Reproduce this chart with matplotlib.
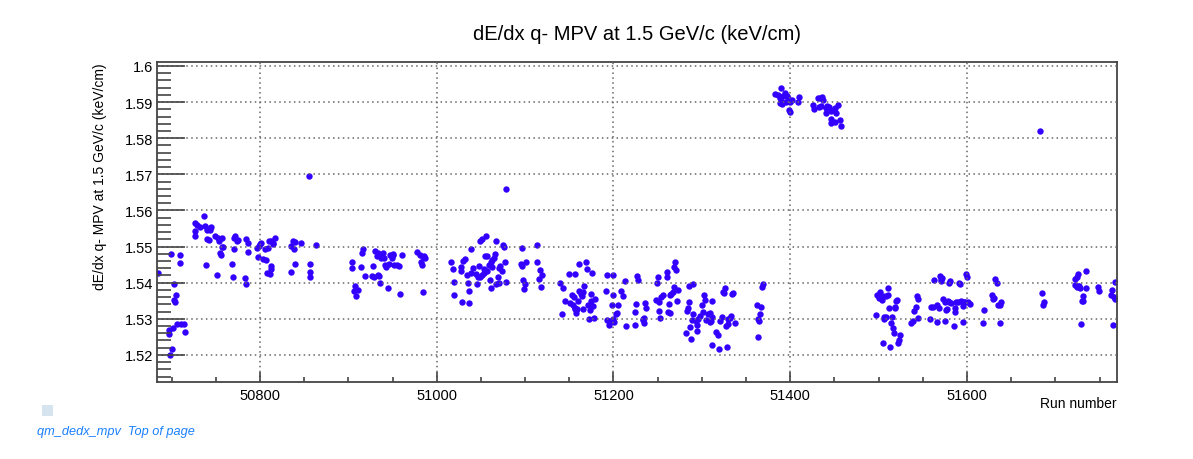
import matplotlib
matplotlib.use("Agg")
import matplotlib.pyplot as plt
from matplotlib.ticker import MultipleLocator, FuncFormatter
import numpy as np

plt.rcParams['font.family'] = ['Liberation Sans', 'DejaVu Sans']

# ---- data (run number, dE/dx q- MPV) ----
runs_a = [50685, 50699, 50698, 50701, 50697, 50697, 50702, 50706, 50711, 50714, 50715, 50703, 50705,
          50703, 50704, 50709, 50710, 50726, 50727, 50727, 50729, 50732, 50737, 50738, 50740, 50743,
          50745, 50744, 50740, 50742, 50739, 50749, 50752, 50754, 50757, 50757, 50758, 50755, 50756,
          50751, 50768, 50769, 50771, 50772, 50774, 50775, 50771, 50784, 50786, 50787, 50783, 50784,
          50797, 50799, 50800, 50801, 50798, 50804, 50807, 50806, 50809, 50810, 50812, 50815, 50817,
          50815, 50812, 50813, 50811, 50808, 50835, 50837, 50840, 50839, 50840, 50835, 50846, 50857,
          50857, 50857, 50855, 50863]
mpv_a = [1.5427, 1.5480, 1.5200, 1.5215, 1.5269, 1.5257, 1.5274, 1.5285, 1.5286, 1.5286, 1.5264, 1.5397, 1.5367,
         1.5352, 1.5347, 1.5476, 1.5455, 1.5542, 1.5529, 1.5566, 1.5561, 1.5555, 1.5585, 1.5558, 1.5547, 1.5552,
         1.5553, 1.5546, 1.5521, 1.5518, 1.5448, 1.5529, 1.5523, 1.5516, 1.5523, 1.5500, 1.5498, 1.5482, 1.5477,
         1.5421, 1.5451, 1.5417, 1.5523, 1.5529, 1.5515, 1.5518, 1.5494, 1.5521, 1.5511, 1.5485, 1.5412, 1.5397,
         1.5495, 1.5501, 1.5507, 1.5511, 1.5471, 1.5466, 1.5462, 1.5493, 1.5497, 1.5515, 1.5516, 1.5506, 1.5525,
         1.5509, 1.5447, 1.5437, 1.5423, 1.5427, 1.5502, 1.5516, 1.5512, 1.5493, 1.5451, 1.5429, 1.5511, 1.5452,
         1.5430, 1.5417, 1.5696, 1.5505]

runs_b = [50904, 50904, 50908, 50906, 50911, 50909, 50914, 50915, 50917, 50919, 50927, 50929, 50934,
          50935, 50928, 50936, 50945, 50959, 50930, 50932, 50933, 50937, 50939, 50940, 50936, 50942,
          50943, 50946, 50947, 50950, 50949, 50951, 50952, 50955, 50957, 50961, 50978, 50981, 50984,
          50986, 50987, 50982, 50983, 50985, 51016, 51018, 51020, 51019, 51030, 51032, 51028, 51027,
          51029, 51034, 51035, 51036, 51037]
mpv_b = [1.5456, 1.5441, 1.5391, 1.5377, 1.5381, 1.5363, 1.5444, 1.5483, 1.5494, 1.5419, 1.5418, 1.5417, 1.5422,
         1.5418, 1.5446, 1.5398, 1.5386, 1.5370, 1.5487, 1.5474, 1.5481, 1.5467, 1.5481, 1.5469, 1.5475, 1.5449,
         1.5444, 1.5453, 1.5478, 1.5479, 1.5469, 1.5476, 1.5449, 1.5449, 1.5446, 1.5477, 1.5485, 1.5477, 1.5470,
         1.5475, 1.5468, 1.5457, 1.5450, 1.5374, 1.5457, 1.5439, 1.5401, 1.5365, 1.5461, 1.5465, 1.5444, 1.5431,
         1.5346, 1.5422, 1.5398, 1.5345, 1.5376]

runs_c = [51039, 51041, 51039, 51045, 51047, 51048, 51046, 51049, 51051, 51056, 51049, 51051, 51053,
          51054, 51057, 51055, 51057, 51059, 51061, 51063, 51065, 51063, 51066, 51060, 51061, 51067,
          51069, 51071, 51072, 51074, 51077, 51075, 51076, 51067, 51070, 51078, 51078, 51097, 51095,
          51096, 51101, 51098, 51100, 51099, 51114, 51114, 51117, 51119, 51116, 51118, 51140, 51143,
          51145, 51142, 51150, 51156, 51161, 51169, 51170, 51176, 51153, 51155, 51151, 51154, 51156,
          51157, 51159, 51161, 51163, 51166, 51164, 51167, 51160, 51158, 51165, 51171, 51173, 51177,
          51175, 51174, 51179, 51172, 51178, 51193, 51200, 51192, 51199, 51198, 51205, 51193, 51195,
          51195, 51201, 51203, 51204, 51200, 51213, 51209, 51211, 51214]
mpv_c = [1.5492, 1.5440, 1.5427, 1.5423, 1.5417, 1.5446, 1.5395, 1.5516, 1.5522, 1.5530, 1.5417, 1.5421, 1.5427,
         1.5438, 1.5433, 1.5475, 1.5473, 1.5450, 1.5457, 1.5463, 1.5468, 1.5444, 1.5480, 1.5407, 1.5386, 1.5515,
         1.5415, 1.5440, 1.5446, 1.5431, 1.5457, 1.5503, 1.5500, 1.5395, 1.5399, 1.5402, 1.5660, 1.5495, 1.5453,
         1.5446, 1.5456, 1.5408, 1.5397, 1.5383, 1.5504, 1.5456, 1.5435, 1.5420, 1.5410, 1.5388, 1.5398, 1.5386,
         1.5349, 1.5313, 1.5423, 1.5425, 1.5453, 1.5458, 1.5438, 1.5426, 1.5367, 1.5360, 1.5344, 1.5338, 1.5330,
         1.5326, 1.5326, 1.5378, 1.5368, 1.5373, 1.5362, 1.5390, 1.5349, 1.5317, 1.5328, 1.5339, 1.5325, 1.5335,
         1.5349, 1.5368, 1.5356, 1.5299, 1.5301, 1.5421, 1.5420, 1.5378, 1.5367, 1.5337, 1.5337, 1.5298, 1.5293,
         1.5283, 1.5291, 1.5314, 1.5316, 1.5300, 1.5404, 1.5376, 1.5364, 1.5281]

runs_d = [51226, 51224, 51236, 51237, 51224, 51233, 51234, 51235, 51233, 51227, 51228, 51249, 51250,
          51248, 51252, 51254, 51256, 51251, 51253, 51260, 51261, 51265, 51267, 51264, 51268, 51270,
          51269, 51271, 51273, 51272, 51262, 51264, 51263, 51286, 51290, 51285, 51284, 51283, 51290,
          51289, 51293, 51294, 51296, 51295, 51282, 51287, 51288, 51302, 51303, 51300, 51301, 51298,
          51305, 51307, 51309, 51310, 51311, 51309, 51312, 51316, 51318, 51311, 51319, 51328, 51321,
          51323, 51324, 51325, 51326, 51327, 51329, 51330, 51332, 51333, 51335, 51334, 51337, 51362,
          51367, 51366, 51363, 51365, 51364, 51369, 51368]
mpv_d = [1.5341, 1.5320, 1.5344, 1.5331, 1.5282, 1.5299, 1.5302, 1.5289, 1.5296, 1.5418, 1.5408, 1.5398, 1.5415,
         1.5351, 1.5347, 1.5361, 1.5367, 1.5322, 1.5301, 1.5429, 1.5416, 1.5368, 1.5374, 1.5365, 1.5389, 1.5457,
         1.5443, 1.5435, 1.5381, 1.5349, 1.5320, 1.5315, 1.5342, 1.5391, 1.5396, 1.5346, 1.5330, 1.5321, 1.5314,
         1.5297, 1.5293, 1.5284, 1.5300, 1.5265, 1.5262, 1.5277, 1.5243, 1.5367, 1.5353, 1.5338, 1.5320, 1.5309,
         1.5296, 1.5312, 1.5316, 1.5295, 1.5305, 1.5290, 1.5349, 1.5264, 1.5255, 1.5228, 1.5215, 1.5221, 1.5293,
         1.5306, 1.5374, 1.5371, 1.5386, 1.5280, 1.5286, 1.5300, 1.5302, 1.5309, 1.5371, 1.5368, 1.5288, 1.5337,
         1.5332, 1.5313, 1.5299, 1.5293, 1.5249, 1.5395, 1.5387]

runs_e = [51383, 51386, 51389, 51388, 51390, 51392, 51394, 51396, 51398, 51400, 51402, 51399, 51400,
          51391, 51388, 51395, 51409, 51410, 51426, 51427, 51431, 51434, 51436, 51437, 51433, 51435,
          51440, 51442, 51444, 51440, 51446, 51449, 51452, 51454, 51451, 51446, 51446, 51451, 51456,
          51457, 51683]
mpv_e = [1.5922, 1.5920, 1.5938, 1.5911, 1.5904, 1.5916, 1.5924, 1.5916, 1.5911, 1.5900, 1.5907, 1.5879, 1.5872,
         1.5895, 1.5897, 1.5901, 1.5900, 1.5914, 1.5892, 1.5881, 1.5911, 1.5911, 1.5914, 1.5907, 1.5887, 1.5890,
         1.5883, 1.5888, 1.5886, 1.5870, 1.5874, 1.5879, 1.5870, 1.5893, 1.5883, 1.5853, 1.5841, 1.5846, 1.5851,
         1.5834, 1.5819]

runs_f = [51497, 51498, 51500, 51502, 51504, 51505, 51508, 51511, 51511, 51506, 51506, 51508, 51512,
          51515, 51514, 51516, 51517, 51505, 51513, 51518, 51519, 51520, 51521, 51522, 51523, 51524,
          51537, 51539, 51540, 51542, 51543, 51544, 51545, 51558, 51559, 51562, 51563, 51566, 51568,
          51566, 51569, 51570, 51572, 51571, 51573, 51575, 51576, 51575, 51577, 51578, 51580, 51581,
          51580, 51582, 51585, 51586, 51586, 51588, 51590, 51591, 51592, 51593, 51595, 51595, 51597,
          51598, 51599, 51600, 51601, 51603, 51619, 51618, 51628, 51629, 51631, 51632, 51634, 51635,
          51637, 51638, 51637, 51685, 51687, 51686, 51722, 51724, 51726, 51722, 51725, 51726, 51728,
          51727, 51735, 51735, 51731, 51731, 51730, 51729, 51748, 51749, 51763, 51764, 51766, 51767,
          51765, 51768]
mpv_f = [1.5310, 1.5367, 1.5357, 1.5374, 1.5351, 1.5363, 1.5363, 1.5366, 1.5385, 1.5304, 1.5300, 1.5306, 1.5330,
         1.5304, 1.5289, 1.5275, 1.5261, 1.5233, 1.5221, 1.5329, 1.5334, 1.5350, 1.5351, 1.5233, 1.5240, 1.5256,
         1.5287, 1.5295, 1.5321, 1.5334, 1.5363, 1.5356, 1.5303, 1.5300, 1.5332, 1.5334, 1.5407, 1.5337, 1.5329,
         1.5290, 1.5419, 1.5410, 1.5414, 1.5405, 1.5354, 1.5346, 1.5325, 1.5295, 1.5327, 1.5349, 1.5346, 1.5406,
         1.5399, 1.5344, 1.5281, 1.5329, 1.5318, 1.5346, 1.5346, 1.5399, 1.5395, 1.5350, 1.5336, 1.5292, 1.5346,
         1.5346, 1.5424, 1.5415, 1.5346, 1.5341, 1.5323, 1.5289, 1.5366, 1.5355, 1.5357, 1.5409, 1.5399, 1.5339,
         1.5337, 1.5346, 1.5289, 1.5371, 1.5346, 1.5337, 1.5409, 1.5415, 1.5425, 1.5394, 1.5387, 1.5392, 1.5385,
         1.5392, 1.5385, 1.5431, 1.5363, 1.5350, 1.5348, 1.5286, 1.5387, 1.5378, 1.5366, 1.5381, 1.5360, 1.5355,
         1.5284, 1.5401]

runs = np.array(runs_a + runs_b + runs_c + runs_d + runs_e + runs_f)
mpv = np.array(mpv_a + mpv_b + mpv_c + mpv_d + mpv_e + mpv_f)

title = "dE/dx q- MPV at 1.5 GeV/c (keV/cm)"
ylabel = "dE/dx q- MPV at 1.5 GeV/c (keV/cm)"
xlabel = "Run number"
xlim = (50683.5, 51769.7)
ylim = (1.5125, 1.6011)

W, H = 1193, 460
fig = plt.figure(figsize=(W / 100, H / 100), dpi=100)
ax = fig.add_axes([157 / W, 1 - 383 / H, (1117 - 157) / W, (383 - 63) / H])

ax.plot(runs, mpv, linestyle='none', marker='o', markersize=4.6,
        markerfacecolor='#3300ff', markeredgewidth=0, clip_on=True)

ax.set_xlim(*xlim)
ax.set_ylim(*ylim)

ax.xaxis.set_major_locator(MultipleLocator(200))
ax.xaxis.set_minor_locator(MultipleLocator(50))
ax.yaxis.set_major_locator(MultipleLocator(0.01))
ax.yaxis.set_minor_locator(MultipleLocator(0.002))
ax.yaxis.set_major_formatter(FuncFormatter(lambda v, p: "%g" % round(v, 4)))

tc = '#444444'
ax.tick_params(axis='both', which='both', direction='in', colors=tc, labelcolor='black',
               labelsize=10.5, top=False, right=False)
ax.tick_params(axis='y', which='major', length=20, width=1.2, pad=3)
ax.tick_params(axis='y', which='minor', length=10, width=1.2)
ax.tick_params(axis='x', which='major', length=7, width=1.2, pad=4)
ax.tick_params(axis='x', which='minor', length=3.5, width=1.2)

for s in ax.spines.values():
    s.set_color('#444444')
    s.set_linewidth(1.3)

ax.grid(True, which='major', linestyle=(0, (1, 2.2)), color='#666666', linewidth=1.1)
ax.set_axisbelow(False)

fig.text(637 / W, 1 - 34 / H, title, ha='center', va='center', fontsize=14.5)
fig.text(100 / W, 1 - 63 / H, ylabel, rotation=90, ha='center', va='top', fontsize=10)
fig.text(1117 / W, 1 - 404 / H, xlabel, ha='right', va='center', fontsize=10)

# decorative footer
fig.patches.append(plt.Rectangle((42 / W, 1 - 417 / H), 11 / W, 11 / H,
                                 transform=fig.transFigure, facecolor='#d6e4f0', edgecolor='none'))
fig.text(37 / W, 1 - 432 / H, "qm_dedx_mpv  Top of page", ha='left', va='center',
         fontsize=9.2, style='italic', color='#1a80ff')

fig.savefig("out.png", dpi=100)
